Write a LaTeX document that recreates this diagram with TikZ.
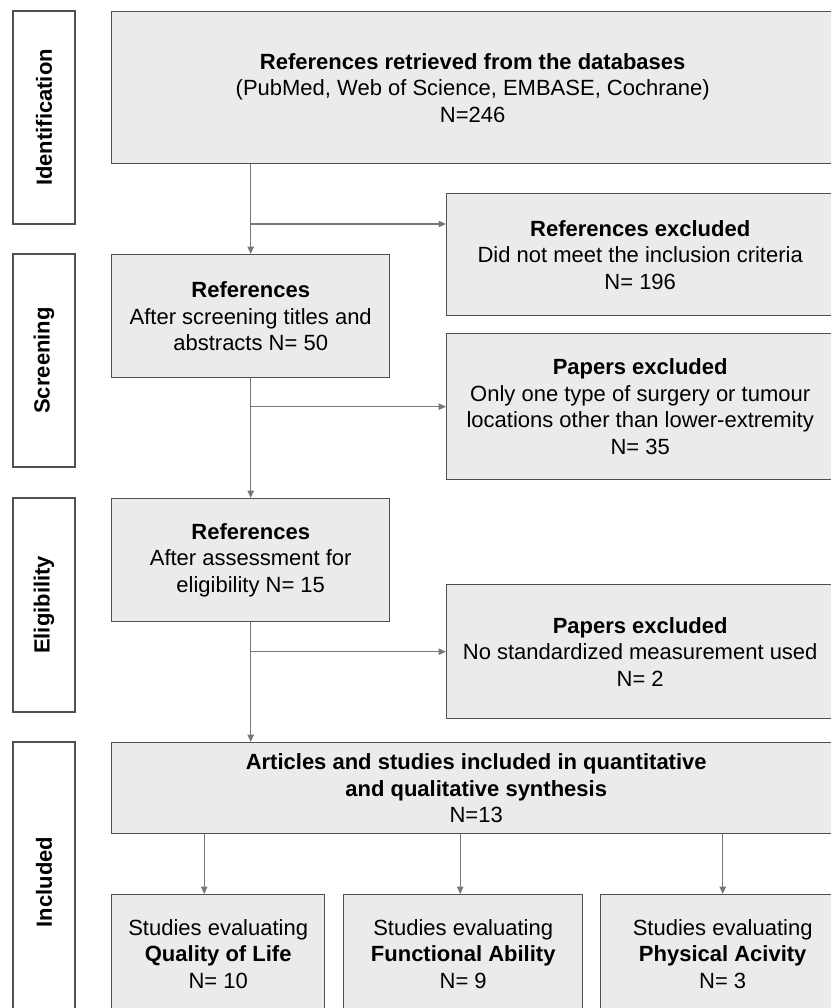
\documentclass[tikz,border=0pt]{standalone}
\usepackage{fontspec}
\setmainfont{Liberation Sans}
\usetikzlibrary{arrows.meta}
\definecolor{boxfill}{HTML}{EBEBEB}
\definecolor{boxline}{HTML}{505050}
\definecolor{arrowline}{HTML}{777777}
\begin{document}
\begin{tikzpicture}
	[x=1bp,y=-1bp,font=\fontsize{22bp}{26.5bp}\selectfont,
	box/.style={rectangle,draw=boxline,fill=boxfill,line width=1.4bp,align=center,inner sep=0pt,anchor=north west},
	phase/.style={rectangle,draw=boxline,line width=1.4bp,rotate=90,font=\fontsize{22bp}{26.5bp}\selectfont\bfseries,minimum height=62bp,inner sep=0pt},
	link/.style={arrowline,line width=1.2bp,-{Triangle[length=7.5bp,width=6.5bp]}}]
	\useasboundingbox (0,0) rectangle (831,1008);
	\clip (0,0) rectangle (831,1008);
	% phases
	\node (Identification) [phase,minimum width=213bp] at (44,117.5) {Identification};
	\node (Screening) [phase,minimum width=213bp] at (44,360.5) {Screening};
	\node (Eligibility) [phase,minimum width=214bp] at (44,605) {Eligibility};
	\node (Included) [phase,minimum width=280bp] at (44,882) {Included};
	% boxes
	\node (Databases) [box,minimum width=722bp,minimum height=152bp] at (111,11) {{\bfseries References retrieved from the databases}\\(PubMed, Web of Science, EMBASE, Cochrane)\\N=246};
	\node (Excluded1) [box,minimum width=387bp,minimum height=122bp] at (446,193) {{\bfseries References excluded}\\Did not meet the inclusion criteria\\N= 196};
	\node (ScreenRefs) [box,minimum width=278bp,minimum height=123bp] at (111,254) {{\bfseries References}\\After screening titles and\\abstracts N= 50};
	\node (Excluded2) [box,minimum width=387bp,minimum height=146bp] at (446,333) {{\bfseries Papers excluded}\\Only one type of surgery or tumour\\locations other than lower-extremity\\N= 35};
	\node (EligRefs) [box,minimum width=278bp,minimum height=123bp] at (111,498) {{\bfseries References}\\After assessment for\\eligibility N= 15};
	\node (Excluded3) [box,minimum width=387bp,minimum height=134bp] at (446,584) {{\bfseries Papers excluded}\\No standardized measurement used\\N= 2};
	\node (Synthesis) [box,minimum width=729bp,minimum height=91bp] at (111,742) {{\bfseries Articles and studies included in quantitative}\\{\bfseries and qualitative synthesis}\\N=13};
	\node (QualityLife) [box,minimum width=213bp,minimum height=118bp] at (111,894) {Studies evaluating\\{\bfseries Quality of Life}\\N= 10};
	\node (FunctionalAbility) [box,minimum width=239bp,minimum height=118bp] at (343,894) {Studies evaluating\\{\bfseries Functional Ability}\\N= 9};
	\node (PhysicalActivity) [box,minimum width=244bp,minimum height=118bp] at (600,894) {Studies evaluating\\{\bfseries Physical Acivity}\\N= 3};
	% arrows
	\coordinate (Split1) at (250,224);
	\draw[link] (Databases.south -| ScreenRefs.north) -- (ScreenRefs.north);
	\draw[link] (Split1) -- (Split1 -| Excluded1.west);
	\draw[link] (ScreenRefs.south) -- (EligRefs.north);
	\draw[link] (ScreenRefs.south |- Excluded2.west) -- (Excluded2.west);
	\draw[link] (EligRefs.south) -- (Synthesis.north -| EligRefs.south);
	\draw[link] (EligRefs.south |- Excluded3.west) -- (Excluded3.west);
	\draw[link] ([xshift=-14bp]QualityLife.north |- Synthesis.south) -- ([xshift=-14bp]QualityLife.north);
	\draw[link] ([xshift=-3bp]FunctionalAbility.north |- Synthesis.south) -- ([xshift=-3bp]FunctionalAbility.north);
	\draw[link] (PhysicalActivity.north |- Synthesis.south) -- (PhysicalActivity.north);
\end{tikzpicture}
\end{document}
